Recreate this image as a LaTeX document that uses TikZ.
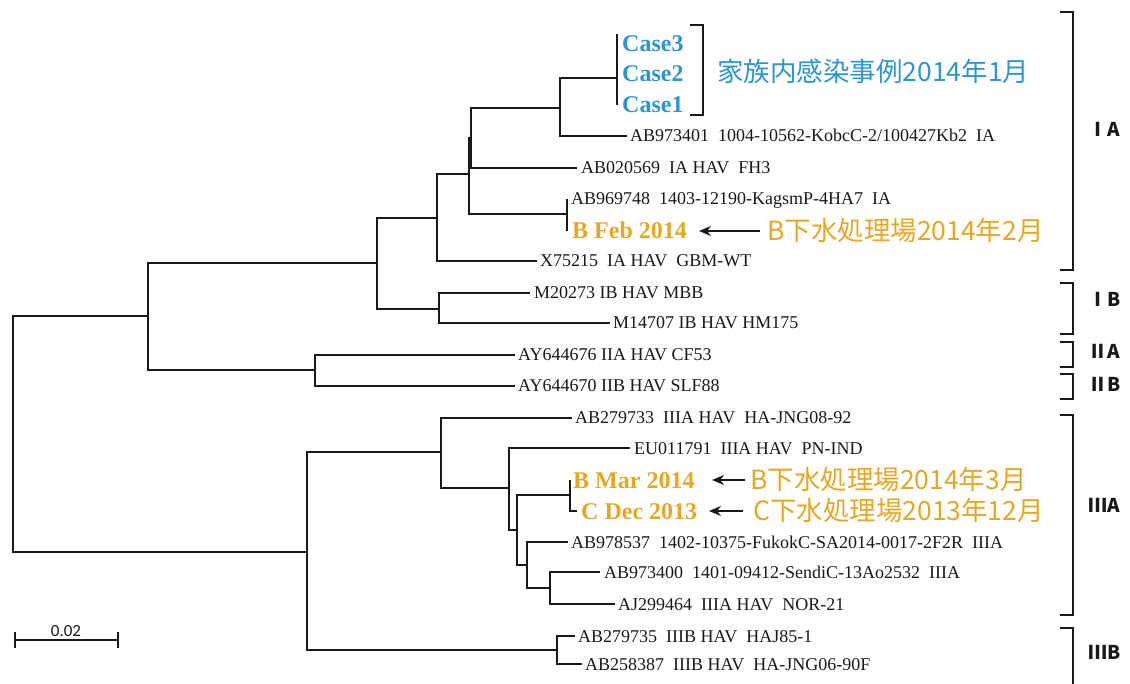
\documentclass[tikz,border=0pt]{standalone}
\usepackage{fontspec}
\setmainfont{Liberation Serif}
\newfontfamily\cjkfont{Noto Sans CJK JP}
\newfontfamily\barfont{Carlito}
\usetikzlibrary{arrows.meta}
\definecolor{caseblue}{RGB}{45,150,210}
\definecolor{sewage}{RGB}{230,168,35}
\definecolor{ink}{RGB}{25,25,25}
\begin{document}
\begin{tikzpicture}[x=1pt,y=-1pt,
  br/.style={line width=1.9pt, draw=ink},
  lab/.style={anchor=base west, inner sep=0pt, text=ink, font=\fontsize{18}{20}\selectfont, yshift=-6pt},
  clab/.style={anchor=base west, inner sep=0pt, font=\bfseries\fontsize{24}{26}\selectfont, yshift=-8pt},
  jlab/.style={anchor=base west, inner sep=0pt, font=\cjkfont\fontsize{26.5}{28}\selectfont, yshift=-9.5pt},
  grp/.style={anchor=base west, inner sep=0pt, text=ink, font=\cjkfont\bfseries\fontsize{19}{21}\selectfont, yshift=-7pt},
  brk/.style={line width=1.9pt, draw=ink},
  arr/.style={line width=1.8pt, draw=ink, -{Stealth[length=12pt,width=10pt]}},
]
\fill[white] (0,0) rectangle (1130,684);
\useasboundingbox (0,0) rectangle (1130,684);

% internal nodes
\coordinate (root) at (13,434);
\coordinate (nA) at (148,316);
\coordinate (nI) at (377,263);
\coordinate (nIA) at (437,218);
\coordinate (n469) at (469,174);
\coordinate (n470) at (471,138);
\coordinate (nCase) at (560,108);
\coordinate (nCC) at (617,78);
\coordinate (nCCtop) at (617,34);
\coordinate (nBF) at (567,214);
\coordinate (nIB) at (439,309);
\coordinate (nII) at (315,370);
\coordinate (nIII) at (307,552);
\coordinate (nIIIA) at (441,452);
\coordinate (n509) at (509,488);
\coordinate (n517) at (517,530);
\coordinate (nBC) at (570,495);
\coordinate (n527) at (527,565);
\coordinate (n550) at (550,588);
\coordinate (nIIIB) at (557,650);

% leaves
\coordinate (lC3) at (617,44);
\coordinate (lC2) at (617,74);
\coordinate (lC1) at (617,105);
\coordinate (l401) at (627,136);
\coordinate (l569) at (577,168);
\coordinate (l748) at (567,199);
\coordinate (lBF) at (567,231);
\coordinate (l215) at (537,261);
\coordinate (l273) at (530,293);
\coordinate (l707) at (610,323);
\coordinate (l676) at (515,355);
\coordinate (l670) at (515,386);
\coordinate (l733) at (572,418);
\coordinate (l791) at (630,448);
\coordinate (lBM) at (570,480);
\coordinate (lCD) at (577,511);
\coordinate (l537) at (568,542);
\coordinate (l400) at (600,572);
\coordinate (l464) at (615,604);
\coordinate (l735) at (575,636);
\coordinate (l387) at (582,664);

% branches
\draw[br] (root) |- (nA);   \draw[br] (root) |- (nIII);
\draw[br] (nA) |- (nI);     \draw[br] (nA) |- (nII);
\draw[br] (nI) |- (nIA);    \draw[br] (nI) |- (nIB);
\draw[br] (nIA) |- (n469);  \draw[br] (nIA) |- (l215);
\draw[br] (n469) |- (n470); \draw[br] (n469) |- (nBF);
\draw[br] (n470) |- (nCase);\draw[br] (n470) |- (l569);
\draw[br] (nCase) |- (nCC); \draw[br] (nCase) |- (l401);
\draw[br] (nCC) -- (nCCtop); \draw[br] (nCC) |- (lC1);
\draw[br] (nBF) |- (l748);  \draw[br] (nBF) |- (lBF);
\draw[br] (nIB) |- (l273);  \draw[br] (nIB) |- (l707);
\draw[br] (nII) |- (l676);  \draw[br] (nII) |- (l670);
\draw[br] (nIII) |- (nIIIA);\draw[br] (nIII) |- (nIIIB);
\draw[br] (nIIIA) |- (l733);\draw[br] (nIIIA) |- (n509);
\draw[br] (n509) |- (l791); \draw[br] (n509) |- (n517);
\draw[br] (n517) |- (nBC);  \draw[br] (n517) |- (n527);
\draw[br] (nBC) |- (lBM);   \draw[br] (nBC) |- (lCD);
\draw[br] (n527) |- (l537); \draw[br] (n527) |- (n550);
\draw[br] (n550) |- (l400); \draw[br] (n550) |- (l464);
\draw[br] (nIIIB) |- (l735);\draw[br] (nIIIB) |- (l387);

% leaf labels
\node[clab,text=caseblue] (tC3) at ([xshift=5pt]lC3) {Case3};
\node[clab,text=caseblue] (tC2) at ([xshift=5pt]lC2) {Case2};
\node[clab,text=caseblue] (tC1) at ([xshift=5pt]lC1) {Case1};
\node[lab] (t401) at ([xshift=3pt]l401) {AB973401~~1004-10562-KobcC-2/100427Kb2~~IA};
\node[lab] (t569) at ([xshift=4pt]l569) {AB020569~~IA HAV~~FH3};
\node[lab] (t748) at ([xshift=4pt]l748) {AB969748~~1403-12190-KagsmP-4HA7~~IA};
\node[clab,text=sewage] (tBF) at ([xshift=5pt]lBF) {B Feb 2014};
\node[lab] (t215) at ([xshift=3pt]l215) {X75215~~IA HAV~~GBM-WT};
\node[lab] (t273) at ([xshift=4pt]l273) {M20273~IB HAV~MBB};
\node[lab] (t707) at ([xshift=3pt]l707) {M14707~IB HAV~HM175};
\node[lab] (t676) at ([xshift=3pt]l676) {AY644676~IIA HAV~CF53};
\node[lab] (t670) at ([xshift=3pt]l670) {AY644670~IIB HAV~SLF88};
\node[lab] (t733) at ([xshift=3pt]l733) {AB279733~~IIIA HAV~~HA-JNG08-92};
\node[lab] (t791) at ([xshift=4pt]l791) {EU011791~~IIIA HAV~~PN-IND};
\node[clab,text=sewage] (tBM) at ([xshift=3pt]lBM) {B Mar 2014};
\node[clab,text=sewage] (tCD) at ([xshift=4pt]lCD) {C Dec 2013};
\node[lab] (t537) at ([xshift=3pt]l537) {AB978537~~1402-10375-FukokC-SA2014-0017-2F2R~~IIIA};
\node[lab] (t400) at ([xshift=4pt]l400) {AB973400~~1401-09412-SendiC-13Ao2532~~IIIA};
\node[lab] (t464) at ([xshift=3pt]l464) {AJ299464~~IIIA HAV~~NOR-21};
\node[lab] (t735) at ([xshift=3pt]l735) {AB279735~~IIIB HAV~~HAJ85-1};
\node[lab] (t387) at ([xshift=3pt]l387) {AB258387~~IIIB HAV~~HA-JNG06-90F};

% Japanese annotations
\node[jlab,text=caseblue] (jCase) at (717,72) {家族内感染事例2014年1月};
\node[jlab,text=sewage] (jBF) at (767,231) {B下水処理場2014年2月};
\node[jlab,text=sewage] (jBM) at (750,480) {B下水処理場2014年3月};
\node[jlab,text=sewage] (jCD) at (753,511) {C下水処理場2013年12月};

% arrows
\coordinate (aBFs) at (760,231); \coordinate (aBFe) at (699,231);
\coordinate (aBMs) at (745,480); \coordinate (aBMe) at (712,480);
\coordinate (aCDs) at (743,511); \coordinate (aCDe) at (709,511);
\draw[arr] (aBFs) -- (aBFe);
\draw[arr] (aBMs) -- (aBMe);
\draw[arr] (aCDs) -- (aCDe);

% brackets
\draw[brk] (690,25) -- (703,25) -- (703,115) -- (690,115);
\draw[brk] (1060,12) -- (1073,12) -- (1073,270) -- (1060,270);
\draw[brk] (1060,283) -- (1073,283) -- (1073,334) -- (1060,334);
\draw[brk] (1060,342) -- (1073,342) -- (1073,367) -- (1060,367);
\draw[brk] (1060,374) -- (1073,374) -- (1073,399) -- (1060,399);
\draw[brk] (1060,415) -- (1073,415) -- (1073,615) -- (1060,615);
\draw[brk] (1060,628) -- (1073,628) -- (1073,684);

\node[grp] (gIA) at (1088,130) {ⅠA};
\node[grp] (gIB) at (1088,300) {ⅠB};
\node[grp] (gIIA) at (1088,352) {ⅡA};
\node[grp] (gIIB) at (1088,385) {ⅡB};
\node[grp] (gIIIA) at (1088,505) {ⅢA};
\node[grp] (gIIIB) at (1088,652) {ⅢB};

% scale bar
\coordinate (sb1) at (15,640); \coordinate (sb2) at (118,640);
\draw[br, line width=1.6pt] (sb1) -- (sb2);
\draw[br, line width=1.6pt] ([yshift=8pt]sb1) -- ([yshift=-8pt]sb1);
\draw[br, line width=1.6pt] ([yshift=8pt]sb2) -- ([yshift=-8pt]sb2);
\node[font=\barfont\fontsize{17}{19}\selectfont, text=ink, anchor=base, inner sep=0pt] (sbl) at (66,636) {0.02};
\end{tikzpicture}
\end{document}
